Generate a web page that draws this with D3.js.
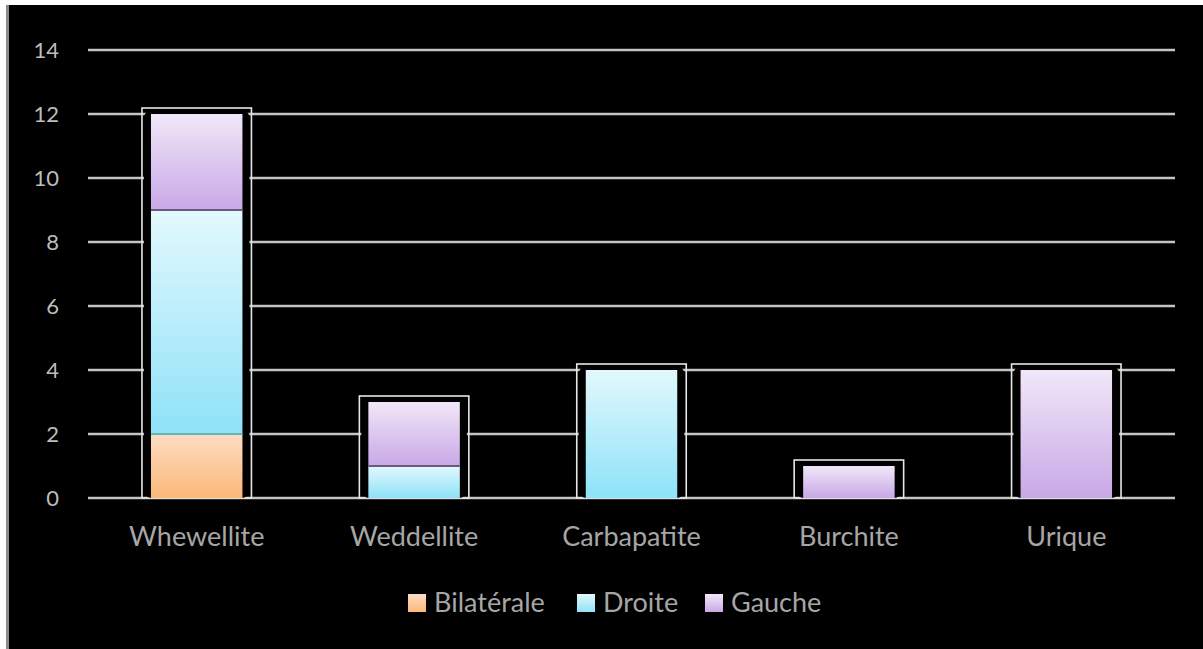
<!DOCTYPE html>
<html>
<head>
<meta charset="utf-8">
<script src="https://cdn.jsdelivr.net/npm/d3@7"></script>
<style>
  body { margin: 0; background: #fff; }
  svg { display: block; }
</style>
</head>
<body>
<script>
// data
var categories = ["Whewellite", "Weddellite", "Carbapatite", "Burchite", "Urique"];
var seriesNames = ["Bilatérale", "Droite", "Gauche"];
var bilaterale = [2, 0, 0, 0, 0];
var droite = [7, 1, 4, 0, 0];
var gauche = [3, 2, 0, 1, 4];
var yTicks = [0, 2, 4, 6, 8, 10, 12, 14];

var colors = {
  "Bilatérale": ["#fddcc4", "#fbb878"],
  "Droite": ["#e2f8fd", "#8ee2f8"],
  "Gauche": ["#f1e7f8", "#c8a8e6"]
};
var edge = { "Bilatérale": "#5fb8b8", "Droite": "#5fb8b8", "Gauche": "#6a5a80" };

var W = 1203, H = 649;
var rows = categories.map(function(c, i) {
  return { cat: c, "Bilatérale": bilaterale[i], "Droite": droite[i], "Gauche": gauche[i] };
});
var stacked = d3.stack().keys(seriesNames)(rows);

var svg = d3.select("body").append("svg").attr("width", W).attr("height", H);

// background
svg.append("rect").attr("width", W).attr("height", H).attr("fill", "#000");
svg.append("rect").attr("width", W).attr("height", 5).attr("fill", "#fff");
svg.append("rect").attr("x", 0).attr("y", 0).attr("width", 6).attr("height", H).attr("fill", "#fff");
svg.append("rect").attr("x", 6).attr("y", 5).attr("width", 3).attr("height", H).attr("fill", "#8a8a8a");

var defs = svg.append("defs");
seriesNames.forEach(function(s, i) {
  var g = defs.append("linearGradient").attr("id", "g" + i)
    .attr("x1", 0).attr("y1", 0).attr("x2", 0).attr("y2", 1);
  g.append("stop").attr("offset", "0%").attr("stop-color", colors[s][0]);
  g.append("stop").attr("offset", "100%").attr("stop-color", colors[s][1]);
});

var x = d3.scaleBand().domain(categories).range([88, 1175]).paddingInner(0.57).paddingOuter(0.285);
var y = d3.scaleLinear().domain([0, 14]).range([498, 50]);

// gridlines
svg.append("g").selectAll("line").data(yTicks).join("line")
  .attr("x1", 88).attr("x2", 1175)
  .attr("y1", function(d) { return y(d); }).attr("y2", function(d) { return y(d); })
  .attr("stroke", "#c4c4c4").attr("stroke-width", 2.4);

// y axis
var yAxis = svg.append("g").attr("transform", "translate(59,0)")
  .call(d3.axisLeft(y).tickValues(yTicks).tickSize(0).tickPadding(0));
yAxis.select(".domain").remove();
yAxis.selectAll("text").attr("fill", "#bdbdbd").attr("font-family", "Lato, sans-serif")
  .attr("font-size", 22).attr("dy", "0.35em");

// bar frames
var totals = rows.map(function(r) { return r["Bilatérale"] + r["Droite"] + r["Gauche"]; });
var frames = svg.append("g").selectAll("g").data(categories).join("g");
frames.append("rect")
  .attr("x", function(d) { return x(d) - 8; })
  .attr("y", function(d, i) { return y(totals[i]) - 6; })
  .attr("width", x.bandwidth() + 16)
  .attr("height", function(d, i) { return y(0) - y(totals[i]) + 6; })
  .attr("fill", "none").attr("stroke", "#e6e6e6").attr("stroke-width", 1.6);
frames.append("rect")
  .attr("x", function(d) { return x(d) - 6; })
  .attr("y", function(d, i) { return y(totals[i]) - 4; })
  .attr("width", x.bandwidth() + 12)
  .attr("height", function(d, i) { return y(0) - y(totals[i]) + 4; })
  .attr("rx", 8)
  .attr("fill", "#000");

// stacked bars
svg.append("g").selectAll("g").data(stacked).join("g")
  .attr("fill", function(d, i) { return "url(#g" + i + ")"; })
  .selectAll("rect")
  .data(function(d) { return d.map(function(v) { v.key = d.key; return v; }).filter(function(v) { return v[1] > v[0]; }); })
  .join("rect")
  .attr("x", function(d) { return x(d.data.cat) + 1; })
  .attr("y", function(d) { return y(d[1]); })
  .attr("width", x.bandwidth() - 2)
  .attr("height", function(d) { return y(d[0]) - y(d[1]); });

// segment top edges
svg.append("g").selectAll("g").data(stacked).join("g")
  .selectAll("line")
  .data(function(d) { return d.map(function(v) { v.key = d.key; return v; }).filter(function(v) { return v[1] > v[0] && v[0] > 0; }); })
  .join("line")
  .attr("x1", function(d) { return x(d.data.cat) + 1; })
  .attr("x2", function(d) { return x(d.data.cat) + x.bandwidth() - 1; })
  .attr("y1", function(d) { return y(d[0]); })
  .attr("y2", function(d) { return y(d[0]); })
  .attr("stroke", function(d) { return edge[d.key]; }).attr("stroke-width", 2);

// x axis labels
var xAxis = svg.append("g").attr("transform", "translate(0,546)")
  .call(d3.axisBottom(x).tickSize(0).tickPadding(0));
xAxis.select(".domain").remove();
xAxis.selectAll("text").attr("fill", "#a6a6a6").attr("font-family", "Lato, sans-serif")
  .attr("font-size", 27).attr("dy", 0);

// legend
var legendX = [408, 577, 705];
var legend = svg.append("g").selectAll("g").data(seriesNames).join("g")
  .attr("transform", function(d, i) { return "translate(" + legendX[i] + ",594)"; });
legend.append("rect").attr("width", 18).attr("height", 18)
  .attr("fill", function(d, i) { return "url(#g" + i + ")"; });
legend.append("text").attr("x", 26).attr("y", 18)
  .attr("fill", "#a6a6a6").attr("font-family", "Lato, sans-serif").attr("font-size", 27)
  .text(function(d) { return d; });
</script>
</body>
</html>
